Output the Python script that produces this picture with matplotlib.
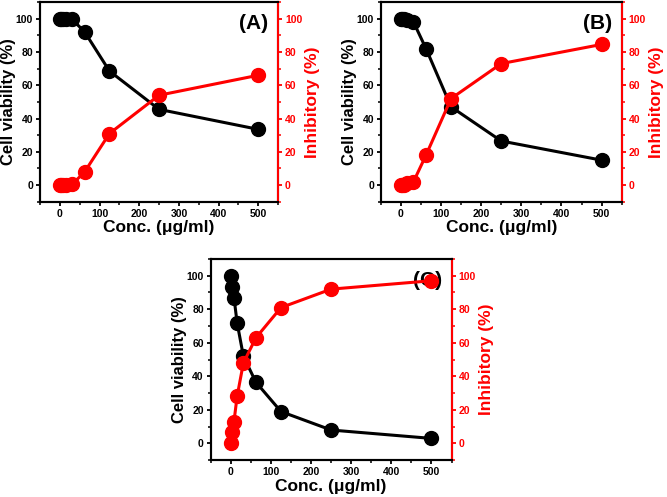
import matplotlib
matplotlib.use("Agg")
import matplotlib.pyplot as plt
from matplotlib.ticker import MultipleLocator

plt.rcParams['font.family'] = ['Liberation Sans', 'DejaVu Sans']
plt.rcParams['font.weight'] = 'bold'

conc = [0, 3.9, 7.8, 15.6, 31.25, 62.5, 125, 250, 500]

viability_a = [100, 100, 100, 100, 99.5, 92, 68.5, 45.5, 33.5]
inhibit_a = [0, 0, 0, 0, 0.5, 8, 31, 54, 66]

viability_b = [100, 100, 100, 99, 98, 82, 47, 26.5, 15]
inhibit_b = [0, 0, 0, 1, 2, 18, 52, 73, 84.5]

viability_c = [100, 93, 87, 72, 52, 36.5, 19, 8, 3]
inhibit_c = [0, 7, 13, 28, 48, 63, 81, 92, 97]

panels = [
    ("(A)", viability_a, inhibit_a, [0.060, 0.594, 0.357, 0.402]),
    ("(B)", viability_b, inhibit_b, [0.571, 0.594, 0.361, 0.402]),
    ("(C)", viability_c, inhibit_c, [0.316, 0.074, 0.361, 0.405]),
]

fig = plt.figure(figsize=(6.67, 4.97), dpi=100)

for tag, via, inh, pos in panels:
    ax = fig.add_axes(pos)
    ax.plot(conc, via, color='black', lw=2.2, marker='o', ms=10, zorder=3)
    ax.set_xlim(-50, 550)
    ax.set_ylim(-10, 110)
    ax.set_xticks([0, 100, 200, 300, 400, 500])
    ax.set_yticks([0, 20, 40, 60, 80, 100])
    ax.xaxis.set_minor_locator(MultipleLocator(50))
    ax.yaxis.set_minor_locator(MultipleLocator(10))
    ax.set_xlabel("Conc. (μg/ml)", fontsize=12.5, fontweight='bold', labelpad=1)
    ax.set_ylabel("Cell viability (%)", fontsize=12, fontweight='bold', labelpad=0)
    ax.tick_params(labelsize=7.5, width=1.3, length=3, pad=2)
    ax.tick_params(which='minor', width=1.1, length=2)
    for s in ax.spines.values():
        s.set_linewidth(1.5)

    ax2 = ax.twinx()
    ax2.plot(conc, inh, color='red', lw=2.2, marker='o', ms=10, zorder=3)
    ax2.set_ylim(-10, 110)
    ax2.set_yticks([0, 20, 40, 60, 80, 100])
    ax2.yaxis.set_minor_locator(MultipleLocator(10))
    ax2.set_ylabel("Inhibitory (%)", fontsize=12.5, fontweight='bold', color='red', labelpad=2)
    ax2.tick_params(labelsize=7.5, width=1.3, length=3, pad=2, colors='red')
    ax2.tick_params(which='minor', width=1.1, length=2, colors='red')
    for s in ax2.spines.values():
        s.set_linewidth(1.5)
    ax2.spines['right'].set_color('red')

    ax.text(0.96, 0.94, tag, transform=ax.transAxes, ha='right', va='top',
            fontsize=15, fontweight='bold', zorder=5)

fig.savefig("out.png", dpi=100)
